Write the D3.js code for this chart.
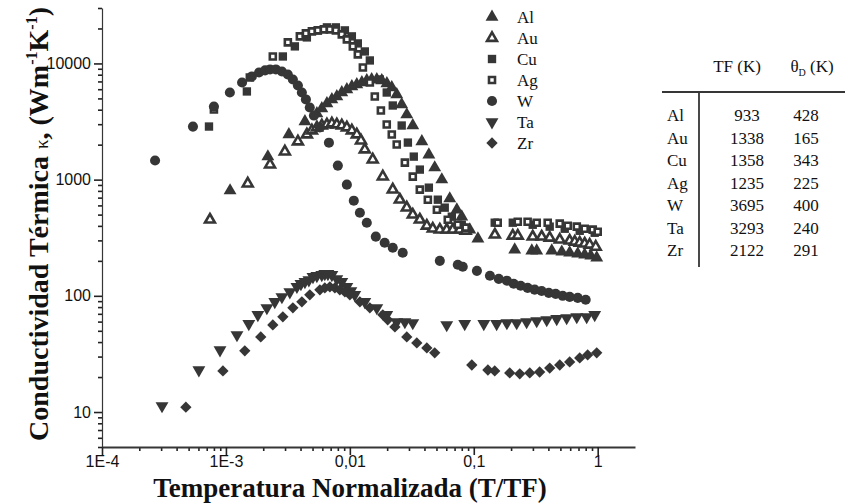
<!DOCTYPE html>
<html>
<head>
<meta charset="utf-8">
<script src="https://cdn.jsdelivr.net/npm/d3@7"></script>
<style>
  html, body { margin: 0; padding: 0; background: #fff; }
  svg { display: block; }
</style>
</head>
<body>
<div id="chart"></div>
<script>
// values: [T/TF, conductivity W m-1 K-1]
const alPoints = [
  [1.08e-3, 804], [2.18e-3, 1578], [3.22e-3, 2443], [4.34e-3, 3162], [5.42e-3, 3710], [5.94e-3, 4090],
  [6.53e-3, 4520], [7.16e-3, 4900], [7.85e-3, 5200], [8.61e-3, 5620], [9.46e-3, 5970], [1.038e-2, 6340],
  [1.138e-2, 6590], [1.25e-2, 6860], [1.37e-2, 7130], [1.5e-2, 7280], [1.65e-2, 7280], [1.81e-2, 7130],
  [1.99e-2, 6730], [2.18e-2, 6210], [2.39e-2, 5400], [2.62e-2, 4430], [2.88e-2, 3630], [3.22e-2, 2920],
  [3.81e-2, 2130], [4.34e-2, 1640], [4.84e-2, 1270], [5.52e-2, 1000], [6.4e-2, 686], [7.3e-2, 551],
  [8.0e-2, 480], [9.29e-2, 371], [0.108, 310],
  [0.214, 249], [0.294, 244], [0.322, 244], [0.426, 244], [0.513, 239], [0.594, 235], [0.69, 230],
  [0.785, 226], [0.879, 221], [0.982, 213]
];
const auPoints = [
  [7.43e-4, 452], [1.5e-3, 924], [2.27e-3, 1347], [2.99e-3, 1743], [3.81e-3, 2127], [4.5e-3, 2443],
  [4.94e-3, 2645], [5.42e-3, 2807], [5.94e-3, 2922], [6.53e-3, 2980], [7.16e-3, 3040], [7.85e-3, 2980],
  [8.61e-3, 2922], [9.46e-3, 2807], [1.038e-2, 2645], [1.138e-2, 2443], [1.23e-2, 2168], [1.32e-2, 1815],
  [1.53e-2, 1487], [1.845e-2, 1062], [2.22e-2, 820], [2.53e-2, 672], [2.88e-2, 574], [3.22e-2, 499],
  [3.67e-2, 452], [4.18e-2, 401], [4.67e-2, 378], [5.32e-2, 371], [6.05e-2, 371], [6.78e-2, 371],
  [7.7e-2, 371], [8.6e-2, 363],
  [0.148, 336], [0.2065, 329], [0.2265, 329], [0.299, 323], [0.353, 323], [0.41, 316], [0.494, 304],
  [0.594, 298], [0.653, 292], [0.716, 286], [0.785, 281], [0.861, 275], [0.964, 264]
];
const cuPoints = [
  [7.3e-4, 2864], [1.476e-3, 5740], [2.88e-3, 11480], [3.6e-3, 14020], [4.5e-3, 16750], [5.52e-3, 19250],
  [6.53e-3, 20440], [7.71e-3, 20440], [9.12e-3, 19250], [1.038e-2, 17100], [1.16e-2, 14870], [1.32e-2, 12680],
  [1.45e-2, 10610], [1.745e-2, 7280], [1.985e-2, 5620], [2.22e-2, 4345], [2.62e-2, 2922], [2.94e-2, 2084],
  [3.28e-2, 1578], [3.67e-2, 1220], [4.34e-2, 853], [5.13e-2, 672], [5.83e-2, 574], [6.65e-2, 480],
  [8.0e-2, 409],
  [0.1476, 426], [0.2065, 426], [0.299, 409], [0.41, 394], [0.542, 378], [0.716, 363], [0.946, 349]
];
const agPoints = [
  [8.0e-4, 4010], [1.56e-3, 7570], [2.39e-3, 11490], [3.16e-3, 15170], [3.95e-3, 17100], [4.42e-3, 18150],
  [4.94e-3, 18880], [5.52e-3, 19250], [6.17e-3, 19630], [6.9e-3, 19630], [7.71e-3, 19250], [8.61e-3, 17780],
  [9.46e-3, 16100], [1.057e-2, 14020], [1.16e-2, 11960], [1.274e-2, 9240], [1.45e-2, 6855], [1.59e-2, 5197],
  [1.78e-2, 3935], [1.985e-2, 2980], [2.18e-2, 2443], [2.39e-2, 2004], [2.78e-2, 1402], [3.22e-2, 1062],
  [3.67e-2, 820], [4.26e-2, 672], [5.04e-2, 551], [6.17e-2, 452], [7.43e-2, 409], [8.6e-2, 386],
  [0.156, 426], [0.2265, 434], [0.272, 434], [0.322, 426], [0.395, 426], [0.494, 418], [0.573, 401],
  [0.678, 394], [0.785, 378], [0.912, 371], [1.0, 356]
];
const wPoints = [
  [2.68e-4, 1460], [5.42e-4, 2860], [8.0e-4, 4260], [1.076e-3, 5620], [1.35e-3, 6860], [1.62e-3, 7730],
  [1.85e-3, 8360], [2.07e-3, 8710], [2.27e-3, 8880], [2.53e-3, 8880], [2.83e-3, 8530], [3.16e-3, 8040],
  [3.47e-3, 7280], [3.81e-3, 6460], [4.1e-3, 5620], [4.42e-3, 4900], [4.75e-3, 4180], [5.13e-3, 3560],
  [5.73e-3, 2810], [6.78e-3, 2080], [8.0e-3, 1320], [9.46e-3, 905], [1.076e-2, 659], [1.205e-2, 519],
  [1.37e-2, 426], [1.62e-2, 323], [1.91e-2, 286], [2.22e-2, 259], [2.67e-2, 235],
  [5.32e-2, 200], [7.43e-2, 185], [8.15e-2, 178], [0.106, 164], [0.135, 149], [0.159, 140], [0.185, 135],
  [0.21, 127], [0.239, 122], [0.272, 117], [0.31, 113], [0.353, 110], [0.403, 106], [0.458, 104],
  [0.522, 100], [0.594, 98], [0.69, 96], [0.8, 92.5]
];
const taPoints = [
  [3.05e-4, 11.3], [6.05e-4, 23], [8.96e-4, 34.2], [1.228e-3, 46.1], [1.53e-3, 57.4], [1.81e-3, 68.6],
  [2.14e-3, 78.8], [2.48e-3, 88.8], [2.83e-3, 98], [3.28e-3, 108], [3.74e-3, 120], [4.03e-3, 127],
  [4.34e-3, 132], [4.67e-3, 137], [5.04e-3, 146], [5.42e-3, 149], [5.94e-3, 152], [6.28e-3, 155],
  [6.65e-3, 155], [7.16e-3, 152], [7.85e-3, 140], [8.61e-3, 132], [9.46e-3, 120], [1.019e-2, 110],
  [1.096e-2, 102], [1.32e-2, 88.8], [1.65e-2, 78.8], [1.985e-2, 68.6], [2.39e-2, 59.7], [2.78e-2, 59.7],
  [3.22e-2, 58.5],
  [6.05e-2, 56.2], [8.45e-2, 57.4], [0.1205, 57.4], [0.153, 57.4], [0.185, 58.5], [0.222, 58.5],
  [0.267, 59.7], [0.322, 60.9], [0.388, 62.1], [0.467, 63.4], [0.562, 64.6], [0.678, 65.9], [0.815, 65.9],
  [0.946, 68.6]
];
const zrPoints = [
  [4.75e-4, 11], [9.46e-4, 22.6], [1.42e-3, 33.6], [1.91e-3, 44.3], [2.39e-3, 56.2], [2.88e-3, 65.9],
  [3.47e-3, 78.8], [4.1e-3, 88.8], [4.75e-3, 102], [5.73e-3, 112.6], [6.28e-3, 117], [6.9e-3, 119.6],
  [7.57e-3, 117], [8.3e-3, 112.6], [9.12e-3, 108], [1.0e-2, 102], [1.205e-2, 88.8], [1.45e-2, 78.8],
  [1.845e-2, 68.6], [2.02e-2, 62.1], [2.31e-2, 54], [2.88e-2, 44.3], [3.47e-2, 39.3], [4.18e-2, 35.6],
  [4.84e-2, 32.3],
  [9.64e-2, 25.4], [0.13, 23], [0.1476, 22.6], [0.195, 21.7], [0.235, 21.3], [0.283, 21.7], [0.34, 22.1],
  [0.41, 23.9], [0.494, 25.4], [0.594, 27], [0.716, 29.2], [0.83, 31], [0.982, 32.3]
];

const seriesNames = ['Al', 'Au', 'Cu', 'Ag', 'W', 'Ta', 'Zr'];
const tableElements = ['Al', 'Au', 'Cu', 'Ag', 'W', 'Ta', 'Zr'];
const tableMeltingK = [933, 1338, 1358, 1235, 3695, 3293, 2122];
const tableDebyeK = [428, 165, 343, 225, 400, 240, 291];

const xTickValues = [1e-4, 1e-3, 1e-2, 1e-1, 1];
const xTickLabels = ['1E-4', '1E-3', '0,01', '0,1', '1'];
const yTickValues = [10, 100, 1000, 10000];
const yTickLabels = ['10', '100', '1000', '10000'];

const width = 845;
const height = 503;
const plot = { left: 102, right: 635, top: 8, bottom: 447 };
const ink = '#363636';
const serif = "'Liberation Serif', 'Times New Roman', serif";
const sans = "'Liberation Sans', Arial, sans-serif";

const markers = {
  triangle: { type: d3.symbolTriangle, size: 72, filled: true, rotate: 0 },
  hollowTriangle: { type: d3.symbolTriangle, size: 42, filled: false, rotate: 0 },
  square: { type: d3.symbolSquare, size: 70, filled: true, rotate: 0 },
  hollowSquare: { type: d3.symbolSquare, size: 36, filled: false, rotate: 0 },
  circle: { type: d3.symbolCircle, size: 80, filled: true, rotate: 0 },
  downTriangle: { type: d3.symbolTriangle, size: 72, filled: true, rotate: 180 },
  diamond: { type: d3.symbolSquare, size: 64, filled: true, rotate: 45 }
};

const series = [
  { name: seriesNames[0], points: alPoints, marker: markers.triangle },
  { name: seriesNames[1], points: auPoints, marker: markers.hollowTriangle },
  { name: seriesNames[2], points: cuPoints, marker: markers.square },
  { name: seriesNames[3], points: agPoints, marker: markers.hollowSquare },
  { name: seriesNames[4], points: wPoints, marker: markers.circle },
  { name: seriesNames[5], points: taPoints, marker: markers.downTriangle },
  { name: seriesNames[6], points: zrPoints, marker: markers.diamond }
];

const svg = d3.select('#chart').append('svg')
  .attr('width', width)
  .attr('height', height)
  .attr('viewBox', `0 0 ${width} ${height}`);

const x = d3.scaleLog().domain([1e-4, 2]).range([plot.left, plot.right]);
const y = d3.scaleLog().domain([5, 30000]).range([plot.bottom, plot.top]);

const minorTicks = (scale, decades) => decades
  .flatMap((d) => d3.range(2, 10).map((k) => d * k))
  .filter((v) => v >= scale.domain()[0] && v <= scale.domain()[1]);

const xMinor = minorTicks(x, [1e-4, 1e-3, 1e-2, 1e-1]);
const yMinor = minorTicks(y, [1, 10, 100, 1000, 10000]);

const styleAxis = (g, lineWidth) => {
  g.selectAll('path.domain').attr('stroke', ink).attr('stroke-width', lineWidth);
  g.selectAll('.tick line').attr('stroke', '#222').attr('stroke-width', 1.6);
  g.selectAll('.tick text').attr('fill', '#111').attr('font-family', sans).attr('font-size', 16);
};

// minor ticks first, then major ticks carrying the axis line
svg.append('g')
  .attr('transform', `translate(0,${plot.bottom})`)
  .call(d3.axisBottom(x).tickValues(xMinor).tickFormat('').tickSize(4).tickSizeOuter(0))
  .call((g) => g.select('path.domain').remove())
  .call((g) => styleAxis(g, 0));

svg.append('g')
  .attr('transform', `translate(${plot.left},0)`)
  .call(d3.axisLeft(y).tickValues(yMinor).tickFormat('').tickSize(4).tickSizeOuter(0))
  .call((g) => g.select('path.domain').remove())
  .call((g) => styleAxis(g, 0));

svg.append('g')
  .attr('transform', `translate(0,${plot.bottom})`)
  .call(d3.axisBottom(x).tickValues(xTickValues).tickFormat((d, i) => xTickLabels[i]).tickSize(8).tickPadding(1).tickSizeOuter(0))
  .call((g) => styleAxis(g, 1.8));

svg.append('g')
  .attr('transform', `translate(${plot.left},0)`)
  .call(d3.axisLeft(y).tickValues(yTickValues).tickFormat((d, i) => yTickLabels[i]).tickSize(8).tickPadding(3).tickSizeOuter(0))
  .call((g) => styleAxis(g, 1.2));

const symbolPath = (marker) => d3.symbol().type(marker.type).size(marker.size)();

const drawMarker = (selection, marker) => selection
  .attr('d', symbolPath(marker))
  .attr('fill', marker.filled ? ink : '#fff')
  .attr('stroke', marker.filled ? 'none' : ink)
  .attr('stroke-width', marker.filled ? 0 : 2.6);

const pointLayer = svg.append('g').attr('class', 'points');

series.forEach((item) => {
  pointLayer.append('g')
    .attr('class', `series-${item.name}`)
    .selectAll('path')
    .data(item.points)
    .join('path')
    .call(drawMarker, item.marker)
    .attr('transform', (d) => `translate(${x(d[0])},${y(d[1])}) rotate(${item.marker.rotate})`);
});

// legend
const legend = svg.append('g').attr('class', 'legend');
const legendRow = d3.scaleLinear().domain([0, series.length - 1]).range([17, 143]);

series.forEach((item, i) => {
  legend.append('path')
    .call(drawMarker, item.marker)
    .attr('transform', `translate(492,${legendRow(i)}) rotate(${item.marker.rotate})`);
  legend.append('text')
    .attr('x', 517)
    .attr('y', legendRow(i))
    .attr('dy', '0.36em')
    .attr('font-family', serif)
    .attr('font-size', 17)
    .attr('fill', '#111')
    .text(item.name);
});

// axis titles
const yTitle = svg.append('text')
  .attr('transform', 'translate(48,224) rotate(-90)')
  .attr('text-anchor', 'middle')
  .attr('font-family', serif)
  .attr('font-size', 28)
  .attr('font-weight', 'bold')
  .attr('fill', '#111');
yTitle.append('tspan').text('Conductividad Térmica ');
yTitle.append('tspan').attr('font-weight', 'normal').attr('font-size', 19).text('κ');
yTitle.append('tspan').text(', (Wm');
yTitle.append('tspan').attr('font-size', 16).attr('dy', -11).text('-1');
yTitle.append('tspan').attr('dy', 11).text('K');
yTitle.append('tspan').attr('font-size', 16).attr('dy', -11).text('-1');
yTitle.append('tspan').attr('dy', 11).text(')');

svg.append('text')
  .attr('x', 350)
  .attr('y', 496.5)
  .attr('text-anchor', 'middle')
  .attr('font-family', serif)
  .attr('font-size', 27)
  .attr('font-weight', 'bold')
  .attr('fill', '#111')
  .text('Temperatura Normalizada (T/TF)');

// parameter table
const table = svg.append('g')
  .attr('class', 'table')
  .attr('font-family', serif)
  .attr('font-size', 17)
  .attr('fill', '#111');
const tableRow = d3.scaleLinear().domain([0, tableElements.length - 1]).range([115, 250]);

table.append('text').attr('x', 737).attr('y', 72).attr('text-anchor', 'middle').text('TF (K)');
const thetaHead = table.append('text').attr('x', 812).attr('y', 72).attr('text-anchor', 'middle');
thetaHead.append('tspan').text('θ');
thetaHead.append('tspan').attr('font-size', 10).attr('dy', 4).text('D');
thetaHead.append('tspan').attr('dy', -4).text(' (K)');

table.append('line')
  .attr('x1', 662).attr('x2', 845).attr('y1', 92).attr('y2', 92)
  .attr('stroke', ink).attr('stroke-width', 1.8);
table.append('line')
  .attr('x1', 699).attr('x2', 699).attr('y1', 92).attr('y2', 267)
  .attr('stroke', ink).attr('stroke-width', 1.8);

tableElements.forEach((name, i) => {
  const cy = tableRow(i);
  table.append('text').attr('x', 667).attr('y', cy).attr('dy', '0.36em').text(name);
  table.append('text').attr('x', 747).attr('y', cy).attr('dy', '0.36em').attr('text-anchor', 'middle').text(tableMeltingK[i]);
  table.append('text').attr('x', 806).attr('y', cy).attr('dy', '0.36em').attr('text-anchor', 'middle').text(tableDebyeK[i]);
});
</script>
</body>
</html>
